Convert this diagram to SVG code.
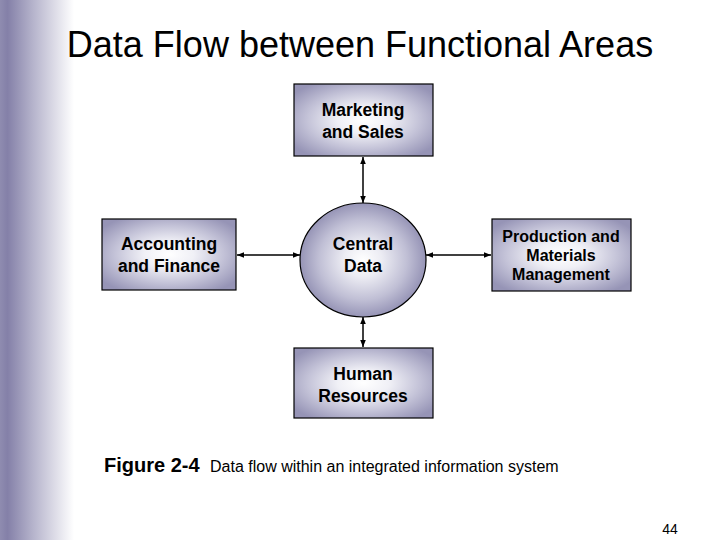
<svg xmlns="http://www.w3.org/2000/svg" width="720" height="540" viewBox="0 0 720 540">
<defs>
<linearGradient id="side" x1="0" y1="0" x2="1" y2="0">
<stop offset="0" stop-color="#8f8cb0"/>
<stop offset="0.1" stop-color="#8480a8"/>
<stop offset="0.45" stop-color="#b6b4cc"/>
<stop offset="1" stop-color="#ffffff"/>
</linearGradient>
<radialGradient id="boxfill" cx="0.5" cy="0.5" r="0.62">
<stop offset="0" stop-color="#ffffff"/>
<stop offset="0.3" stop-color="#f0f0f6"/>
<stop offset="0.65" stop-color="#c4c3d8"/>
<stop offset="1" stop-color="#9694b6"/>
</radialGradient>
<radialGradient id="ellfill" cx="0.5" cy="0.5" r="0.5">
<stop offset="0" stop-color="#ffffff"/>
<stop offset="0.3" stop-color="#ececf3"/>
<stop offset="0.7" stop-color="#c0bfd5"/>
<stop offset="1" stop-color="#9694b6"/>
</radialGradient>
<marker id="ah" viewBox="0 0 10 10" refX="10" refY="5" markerWidth="7" markerHeight="7" orient="auto-start-reverse" markerUnits="userSpaceOnUse">
<path d="M0,1 L10,5 L0,9 z" fill="#000"/>
</marker>
</defs>
<style>
.box{fill:url(#boxfill);stroke:#000;stroke-width:1.2}
.nt{font-family:"Liberation Sans",Arial,sans-serif;font-weight:bold;font-size:17.5px;text-anchor:middle;fill:#000}
.pt{font-size:16px}
.con{stroke:#000;stroke-width:1.5;fill:none;marker-start:url(#ah);marker-end:url(#ah)}
</style>
<rect x="0" y="0" width="720" height="540" fill="#fff"/>
<rect x="0" y="0" width="74" height="540" fill="url(#side)"/>
<text x="360" y="57" font-family="Liberation Sans,Arial,sans-serif" font-size="36" text-anchor="middle" fill="#000">Data Flow between Functional Areas</text>
<g id="connectors">
<line class="con" x1="363" y1="157" x2="363" y2="203"/>
<line class="con" x1="237" y1="255" x2="300" y2="255"/>
<line class="con" x1="426" y1="255" x2="491" y2="255"/>
<line class="con" x1="363" y1="317" x2="363" y2="347"/>
</g>
<g id="marketing">
<rect class="box" x="294" y="84" width="139" height="72"/>
<text class="nt" x="363" y="116">Marketing</text>
<text class="nt" x="363" y="138">and Sales</text>
</g>
<g id="accounting">
<rect class="box" x="102" y="219" width="134" height="71"/>
<text class="nt" x="169" y="250">Accounting</text>
<text class="nt" x="169" y="272">and Finance</text>
</g>
<g id="central">
<ellipse cx="363" cy="260" rx="63" ry="57" fill="url(#ellfill)" stroke="#000" stroke-width="1.2"/>
<text class="nt" x="363" y="250">Central</text>
<text class="nt" x="363" y="272">Data</text>
</g>
<g id="production">
<rect class="box" x="492" y="219" width="139" height="72"/>
<text class="nt pt" x="561" y="242">Production and</text>
<text class="nt pt" x="561" y="261">Materials</text>
<text class="nt pt" x="561" y="280">Management</text>
</g>
<g id="hr">
<rect class="box" x="294" y="348" width="139" height="70"/>
<text class="nt" x="363" y="380">Human</text>
<text class="nt" x="363" y="402">Resources</text>
</g>
<text x="104" y="472" font-family="Liberation Sans,Arial,sans-serif" font-size="20" font-weight="bold" fill="#000">Figure 2-4</text>
<text x="210" y="472" font-family="Liberation Sans,Arial,sans-serif" font-size="16" fill="#000">Data flow within an integrated information system</text>
<text x="670" y="534" font-family="Liberation Sans,Arial,sans-serif" font-size="14" text-anchor="middle" fill="#000">44</text>
</svg>
